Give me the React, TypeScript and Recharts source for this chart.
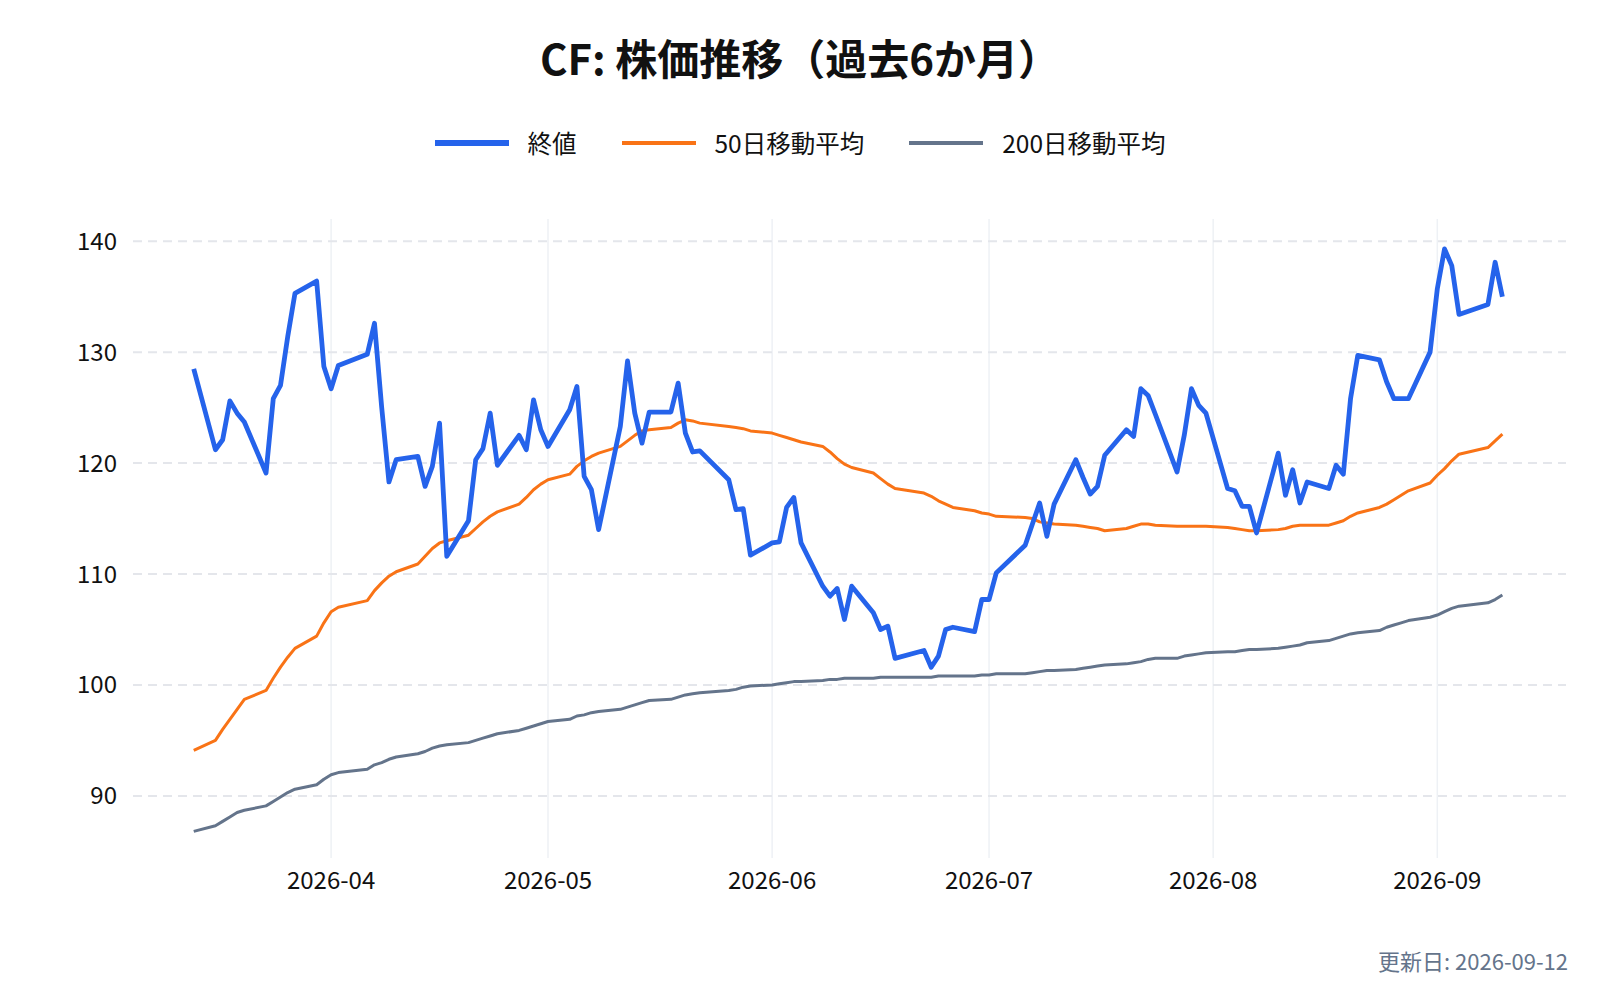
import {
  LineChart,
  Line,
  XAxis,
  YAxis,
  ReferenceLine,
} from "recharts";

const dates = [
  "2026-03-13", "2026-03-16", "2026-03-17", "2026-03-18", "2026-03-19", "2026-03-20",
  "2026-03-23", "2026-03-24", "2026-03-25", "2026-03-26", "2026-03-27", "2026-03-30", "2026-03-31",
  "2026-04-01", "2026-04-02", "2026-04-06", "2026-04-07", "2026-04-08", "2026-04-09", "2026-04-10",
  "2026-04-13", "2026-04-14", "2026-04-15", "2026-04-16", "2026-04-17", "2026-04-20", "2026-04-21",
  "2026-04-22", "2026-04-23", "2026-04-24", "2026-04-27", "2026-04-28", "2026-04-29", "2026-04-30",
  "2026-05-01", "2026-05-04", "2026-05-05", "2026-05-06", "2026-05-07", "2026-05-08", "2026-05-11",
  "2026-05-12", "2026-05-13", "2026-05-14", "2026-05-15", "2026-05-18", "2026-05-19", "2026-05-20",
  "2026-05-21", "2026-05-22", "2026-05-26", "2026-05-27", "2026-05-28", "2026-05-29",
  "2026-06-01", "2026-06-02", "2026-06-03", "2026-06-04", "2026-06-05", "2026-06-08", "2026-06-09",
  "2026-06-10", "2026-06-11", "2026-06-12", "2026-06-15", "2026-06-16", "2026-06-17", "2026-06-18",
  "2026-06-22", "2026-06-23", "2026-06-24", "2026-06-25", "2026-06-26", "2026-06-29", "2026-06-30",
  "2026-07-01", "2026-07-02", "2026-07-06", "2026-07-07", "2026-07-08", "2026-07-09", "2026-07-10",
  "2026-07-13", "2026-07-14", "2026-07-15", "2026-07-16", "2026-07-17", "2026-07-20", "2026-07-21",
  "2026-07-22", "2026-07-23", "2026-07-24", "2026-07-27", "2026-07-28", "2026-07-29", "2026-07-30",
  "2026-07-31", "2026-08-03", "2026-08-04", "2026-08-05", "2026-08-06", "2026-08-07", "2026-08-10",
  "2026-08-11", "2026-08-12", "2026-08-13", "2026-08-14", "2026-08-17", "2026-08-18", "2026-08-19",
  "2026-08-20", "2026-08-21", "2026-08-24", "2026-08-25", "2026-08-26", "2026-08-27", "2026-08-28",
  "2026-08-31", "2026-09-01", "2026-09-02", "2026-09-03", "2026-09-04", "2026-09-08", "2026-09-09",
  "2026-09-10",
];

// 終値
const close = [
  128.5, 121.2, 122.1, 125.6, 124.5, 123.7, 119.1, 125.8, 127.0, 131.4, 135.3, 136.4, 128.7,
  126.7, 128.8, 129.8, 132.6, 125.0, 118.3, 120.3, 120.6, 117.9, 119.7, 123.6, 111.6, 114.8, 120.3,
  121.3, 124.5, 119.8, 122.5, 121.2, 125.7, 123.0,
  121.5, 124.8, 126.9, 118.8, 117.6, 114.0, 123.3, 129.2, 124.5, 121.8, 124.6, 124.6, 127.2, 122.7,
  121.0, 121.1, 118.5, 115.8, 115.9, 111.7,
  112.8, 112.9, 116.0, 116.9, 112.8, 108.9, 108.0, 108.7, 105.9, 108.9, 106.5, 105.0, 105.3, 102.4,
  103.1, 101.6, 102.6, 105.0, 105.2, 104.8, 107.7,
  107.7, 110.1, 112.6, 114.5, 116.4, 113.4, 116.3, 120.3, 118.7, 117.2, 117.9, 120.7, 123.0, 122.4,
  126.7, 126.1, 124.4, 119.2, 122.5, 126.7, 125.2, 124.5,
  117.7, 117.5, 116.1, 116.1, 113.7, 120.9, 117.1, 119.4, 116.4, 118.3, 117.7, 119.8, 119.0, 125.8,
  129.7, 129.3, 127.3, 125.8, 125.8, 125.8, 130.0,
  135.7, 139.3, 137.8, 133.4, 134.3, 138.1, 135.0,
];

// 50日移動平均
const ma50 = [
  94.1, 95.0, 96.0, 96.9, 97.8, 98.7, 99.5, 100.6, 101.6, 102.5, 103.3, 104.4, 105.6,
  106.6, 107.0, 107.6, 108.5, 109.2, 109.8, 110.2, 110.9, 111.6, 112.3, 112.8, 113.0, 113.5, 114.1,
  114.7, 115.2, 115.6, 116.3, 116.9, 117.6, 118.1,
  118.5, 119.0, 119.7, 120.2, 120.6, 120.9, 121.5, 122.0, 122.5, 122.9, 123.0, 123.2, 123.6, 123.9,
  123.8, 123.6, 123.3, 123.2, 123.1, 122.9,
  122.7, 122.5, 122.3, 122.1, 121.9, 121.5, 121.0, 120.4, 119.9, 119.6, 119.1, 118.6, 118.1, 117.7,
  117.3, 117.0, 116.6, 116.3, 116.0, 115.7, 115.5,
  115.4, 115.2, 115.1, 115.0, 114.7, 114.6, 114.5, 114.4, 114.3, 114.2, 114.1, 113.9, 114.1, 114.3,
  114.5, 114.5, 114.4, 114.3, 114.3, 114.3, 114.3, 114.3,
  114.2, 114.1, 114.0, 113.9, 113.9, 114.0, 114.1, 114.3, 114.4, 114.4, 114.4, 114.6, 114.8, 115.2,
  115.5, 116.0, 116.3, 116.7, 117.1, 117.5, 118.2,
  118.9, 119.5, 120.2, 120.8, 121.4, 122.0, 122.6,
];

// 200日移動平均
const ma200 = [
  86.8, 87.3, 87.7, 88.1, 88.5, 88.7, 89.1, 89.5, 89.9, 90.3, 90.6, 91.0, 91.5,
  91.9, 92.1, 92.4, 92.8, 93.0, 93.3, 93.5, 93.8, 94.0, 94.3, 94.5, 94.6, 94.8, 95.0,
  95.2, 95.4, 95.6, 95.9, 96.1, 96.3, 96.5,
  96.7, 96.9, 97.2, 97.3, 97.5, 97.6, 97.8, 98.0, 98.2, 98.4, 98.6, 98.7, 98.9, 99.1,
  99.2, 99.3, 99.5, 99.6, 99.8, 99.9,
  100.0, 100.1, 100.2, 100.3, 100.3, 100.4, 100.5, 100.5, 100.6, 100.6, 100.6, 100.7, 100.7, 100.7,
  100.7, 100.7, 100.8, 100.8, 100.8, 100.8, 100.9,
  100.9, 101.0, 101.0, 101.1, 101.2, 101.3, 101.3, 101.4, 101.5, 101.6, 101.7, 101.8, 101.9, 102.0,
  102.1, 102.3, 102.4, 102.4, 102.6, 102.7, 102.8, 102.9,
  103.0, 103.0, 103.1, 103.2, 103.2, 103.3, 103.4, 103.5, 103.6, 103.8, 104.0, 104.2, 104.4, 104.6,
  104.7, 104.9, 105.2, 105.4, 105.6, 105.8, 106.1,
  106.3, 106.6, 106.9, 107.1, 107.4, 107.7, 108.1,
];

const monthTicks = ["2026-04-01", "2026-05-01", "2026-06-01", "2026-07-01", "2026-08-01", "2026-09-01"];
const yTicks = [90, 100, 110, 120, 130, 140];

const title = "CF: 株価推移（過去6か月）";
const updated = "更新日: 2026-09-12";

const seriesInfo = [
  { key: "close", name: "終値", color: "#2563eb", width: 5 },
  { key: "ma50", name: "50日移動平均", color: "#f97316", width: 3 },
  { key: "ma200", name: "200日移動平均", color: "#64748b", width: 3 },
];

const DAY = 86400000;
const FONT = '"Noto Sans CJK JP", "Noto Sans", sans-serif';

const data = dates.map((d, i) => ({
  t: Date.parse(d),
  close: close[i],
  ma50: ma50[i],
  ma200: ma200[i],
}));

const tickTimes = monthTicks.map((d) => Date.parse(d));
const t0 = Date.parse("2026-04-01");

function fmtMonth(v: number) {
  const d = new Date(v);
  return `${d.getUTCFullYear()}-${String(d.getUTCMonth() + 1).padStart(2, "0")}`;
}

export default function App() {
  return (
    <div
      style={{
        position: "absolute",
        top: 0,
        left: 0,
        width: 1600,
        height: 1000,
        background: "#fff",
        fontFamily: FONT,
        overflow: "hidden",
      }}
    >
      <div
        style={{
          position: "absolute",
          top: 29,
          left: 0,
          width: 1600,
          textAlign: "center",
          fontSize: 42,
          fontWeight: 700,
          color: "#111",
          lineHeight: "56px",
        }}
      >
        {title}
      </div>

      <div
        style={{
          position: "absolute",
          top: 125,
          left: 0,
          width: 1600,
          display: "flex",
          justifyContent: "center",
          alignItems: "center",
          gap: 45,
          fontSize: 24.5,
          color: "#111",
          lineHeight: "36px",
        }}
      >
        {seriesInfo.map((s) => (
          <div key={s.key} style={{ display: "flex", alignItems: "center", gap: 19 }}>
            <div style={{ width: 74, height: s.width + 1, background: s.color }} />
            <span>{s.name}</span>
          </div>
        ))}
      </div>

      <div style={{ position: "absolute", top: 0, left: 0 }}>
        <LineChart
          width={1600}
          height={1000}
          data={data}
          margin={{ top: 219, right: 34, bottom: 102, left: 0 }}
        >
          <XAxis
            dataKey="t"
            type="number"
            scale="time"
            domain={[t0 - 27.4 * DAY, t0 + 170.8 * DAY]}
            ticks={tickTimes}
            tickFormatter={fmtMonth}
            axisLine={false}
            tickLine={false}
            tickMargin={8}
            height={40}
            tick={{ fontSize: 24, fill: "#111", fontFamily: FONT }}
          />
          <YAxis
            type="number"
            domain={[84.4, 142]}
            ticks={yTicks}
            axisLine={false}
            tickLine={false}
            tickMargin={10}
            width={133}
            tick={{ fontSize: 24, fill: "#111", fontFamily: FONT }}
          />
          {tickTimes.map((t) => (
            <ReferenceLine key={`vx${t}`} x={t} stroke="#eef1f5" strokeWidth={1.5} />
          ))}
          {yTicks.map((v) => (
            <ReferenceLine key={`hy${v}`} y={v} stroke="#e4e6eb" strokeWidth={2} strokeDasharray="9 6" />
          ))}
          <Line
            dataKey="ma200"
            stroke="#64748b"
            strokeWidth={3}
            dot={false}
            type="linear"
            strokeLinejoin="round"
            isAnimationActive={false}
          />
          <Line
            dataKey="ma50"
            stroke="#f97316"
            strokeWidth={3}
            dot={false}
            type="linear"
            strokeLinejoin="round"
            isAnimationActive={false}
          />
          <Line
            dataKey="close"
            stroke="#2563eb"
            strokeWidth={4.8}
            dot={false}
            type="linear"
            strokeLinejoin="round"
            isAnimationActive={false}
          />
        </LineChart>
      </div>

      <div
        style={{
          position: "absolute",
          top: 944,
          right: 32,
          fontSize: 22,
          color: "#64748b",
          lineHeight: "32px",
        }}
      >
        {updated}
      </div>
    </div>
  );
}
